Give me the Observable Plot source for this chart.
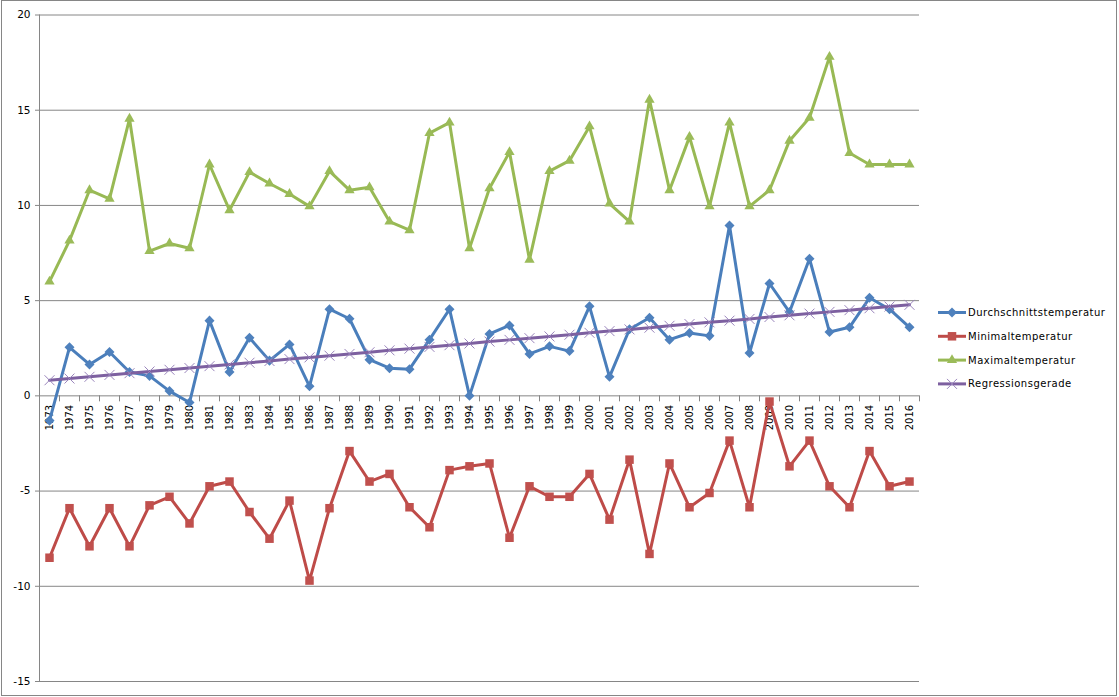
<!DOCTYPE html>
<html><head><meta charset="utf-8">
<script src="https://cdn.jsdelivr.net/npm/d3@7"></script>
<script src="https://cdn.jsdelivr.net/npm/@observablehq/plot@0.6"></script>
<style>
body{margin:0;background:#fff}
#chart{position:relative;width:1119px;height:697px;overflow:hidden;background:#fff}
#overlay{position:absolute;left:0;top:0;pointer-events:none}
</style>
</head><body><div id="chart"></div>
<script>
const years = [1973,1974,1975,1976,1977,1978,1979,1980,1981,1982,1983,1984,1985,1986,1987,1988,1989,1990,1991,1992,1993,1994,1995,1996,1997,1998,1999,2000,2001,2002,2003,2004,2005,2006,2007,2008,2009,2010,2011,2012,2013,2014,2015,2016];
const avgTemp = [-1.3,2.55,1.65,2.3,1.25,1.05,0.25,-0.35,3.95,1.25, 3.05,1.85,2.7,0.5,4.55,4.05,1.9,1.45,1.4,2.95, 4.55,0.0,3.25,3.7,2.2,2.6,2.35,4.7,1.0,3.5, 4.1,2.95,3.3,3.15,8.95,2.25,5.9,4.4,7.2,3.35, 3.6,5.15,4.55,3.6];
const minTemp = [-8.5,-5.9,-7.9,-5.9,-7.9,-5.75,-5.3,-6.7,-4.75,-4.5, -6.1,-7.5,-5.5,-9.7,-5.9,-2.9,-4.5,-4.1,-5.85,-6.9, -3.9,-3.7,-3.55,-7.45,-4.75,-5.3,-5.3,-4.1,-6.5,-3.35, -8.3,-3.55,-5.85,-5.1,-2.35,-5.85,-0.3,-3.7,-2.35,-4.75, -5.85,-2.9,-4.75,-4.5];
const maxTemp = [6.0,8.15,10.8,10.35,14.55,7.6,8.0,7.75,12.15,9.75, 11.75,11.15,10.6,9.95,11.8,10.8,10.95,9.15,8.7,13.8, 14.35,7.75,10.9,12.8,7.15,11.8,12.35,14.15,10.1,9.15, 15.55,10.8,13.6,9.95,14.35,9.95,10.8,13.4,14.6,17.8, 12.75,12.15,12.15,12.15];
const regLine = [0.82,0.91,1.00,1.10,1.19,1.28,1.37,1.46,1.56,1.65, 1.74,1.83,1.93,2.02,2.11,2.20,2.29,2.39,2.48,2.57, 2.66,2.75,2.85,2.94,3.03,3.12,3.21,3.31,3.40,3.49, 3.58,3.68,3.77,3.86,3.95,4.04,4.14,4.23,4.32,4.41, 4.50,4.60,4.69,4.78];
const yTicks = [-15,-10,-5,0,5,10,15,20];
const seriesNames = ["Durchschnittstemperatur","Minimaltemperatur","Maximaltemperatur","Regressionsgerade"];

const W = 1119, H = 697;
const rows = years.map((y,i)=>({year:y, avg:avgTemp[i], min:minTemp[i], max:maxTemp[i], reg:regLine[i]}));
const bounds = [...years.map(y=>y-0.5), years[years.length-1]+0.5];

const diamond = {draw(ctx,size){const r=Math.sqrt(size/2);ctx.moveTo(0,-r);ctx.lineTo(r,0);ctx.lineTo(0,r);ctx.lineTo(-r,0);ctx.closePath();}};

const series = [
  {key:"avg", name:seriesNames[0], color:"#4A7EBB", mark:"#4F81BD", symbol:diamond, r:4, filled:true},
  {key:"min", name:seriesNames[1], color:"#BE4B48", mark:"#C0504D", symbol:"square", r:4.8, filled:true},
  {key:"max", name:seriesNames[2], color:"#98B954", mark:"#9BBB59", symbol:"triangle", r:3.8, filled:true},
  {key:"reg", name:seriesNames[3], color:"#7D60A0", mark:"#9A85BC", symbol:"times", r:4.6, filled:false}
];

const seriesMarks = series.flatMap(s => [
  Plot.line(rows, {x:"year", y:s.key, stroke:s.color, strokeWidth:3, strokeLinejoin:"round", strokeLinecap:"round"}),
  s.filled
    ? Plot.dot(rows, {x:"year", y:s.key, symbol:s.symbol, r:s.r, fill:s.mark, stroke:"none"})
    : Plot.dot(rows, {x:"year", y:s.key, symbol:s.symbol, r:s.r, fill:"none", stroke:s.mark, strokeWidth:1})
]);

const plot = Plot.plot({
  width:W, height:H,
  marginLeft:39, marginRight:200, marginTop:14.5, marginBottom:16,
  style:{fontFamily:"DejaVu Sans", fontSize:"10px", background:"white", overflow:"visible"},
  x:{type:"linear", domain:[1972.5, 2016.5], axis:null},
  y:{type:"linear", domain:[-15, 20], axis:null},
  marks:[
    Plot.ruleY(yTicks, {stroke:"#868686", strokeWidth:1, insetLeft:-4}),
    Plot.ruleX([1972.5], {stroke:"#868686", strokeWidth:1}),
    Plot.ruleX(bounds, {x:d=>d, y1:0, y2:0, insetBottom:-6, stroke:"#868686", strokeWidth:1}),
    Plot.text(yTicks, {x:1972.5, y:d=>d, text:d=>String(d), textAnchor:"end", dx:-9, fontSize:10.5, fill:"black"}),
    Plot.text(years, {x:d=>d, y:0, text:d=>String(d), rotate:-90, textAnchor:"end", dy:9, fontSize:10, fill:"black"}),
    ...seriesMarks
  ]
});

const chart = document.getElementById("chart");
chart.appendChild(plot);

// legend + outer frame overlay
const svg = d3.select(chart).append("svg").attr("id","overlay").attr("width",W).attr("height",H);
svg.append("rect").attr("x",1.5).attr("y",0.5).attr("width",1115).attr("height",695)
  .attr("fill","none").attr("stroke","#868686").attr("stroke-width",1);
const lg = svg.append("g").attr("font-family","DejaVu Sans").attr("font-size",10).attr("letter-spacing","0.5px");
series.forEach((s,i)=>{
  const y = 312.5 + i*23.8;
  const g = lg.append("g").attr("transform",`translate(0,${y})`);
  g.append("line").attr("x1",938).attr("x2",966).attr("y1",0).attr("y2",0)
    .attr("stroke",s.color).attr("stroke-width",3);
  const symType = s.symbol === diamond ? diamond : s.symbol === "square" ? d3.symbolSquare : s.symbol === "triangle" ? d3.symbolTriangle : d3.symbolTimes;
  const p = g.append("path").attr("transform","translate(952,0)")
    .attr("d", d3.symbol(symType, Math.PI*s.r*s.r)());
  if (s.filled) p.attr("fill",s.mark); else p.attr("fill","none").attr("stroke",s.mark).attr("stroke-width",1);
  g.append("text").attr("x",968).attr("y",0).attr("dy","0.35em").attr("fill","black").text(s.name);
});
</script>
</body></html>
